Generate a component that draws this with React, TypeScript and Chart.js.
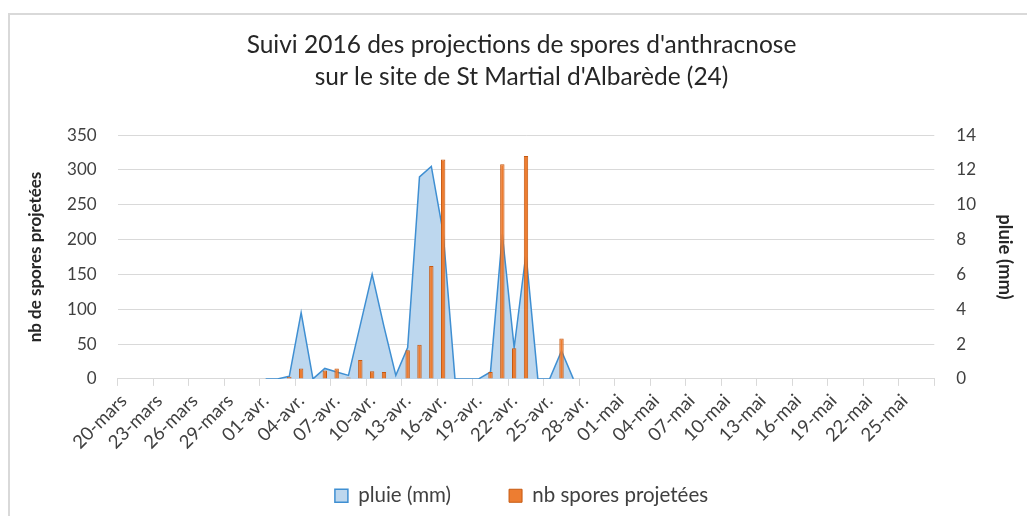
import React, { useEffect, useRef } from 'react';
import { Chart, registerables } from 'chart.js';

Chart.register(...registerables);

const titleLines = [
  "Suivi 2016 des projections de spores d'anthracnose",
  "sur le site de St Martial d'Albarède (24)",
];

const categories = [
  '20-mars', '21-mars', '22-mars', '23-mars', '24-mars', '25-mars', '26-mars', '27-mars', '28-mars', '29-mars', '30-mars', '31-mars',
  '01-avr.', '02-avr.', '03-avr.', '04-avr.', '05-avr.', '06-avr.', '07-avr.', '08-avr.', '09-avr.', '10-avr.',
  '11-avr.', '12-avr.', '13-avr.', '14-avr.', '15-avr.', '16-avr.', '17-avr.', '18-avr.', '19-avr.', '20-avr.',
  '21-avr.', '22-avr.', '23-avr.', '24-avr.', '25-avr.', '26-avr.', '27-avr.', '28-avr.', '29-avr.', '30-avr.',
  '01-mai', '02-mai', '03-mai', '04-mai', '05-mai', '06-mai', '07-mai', '08-mai', '09-mai', '10-mai',
  '11-mai', '12-mai', '13-mai', '14-mai', '15-mai', '16-mai', '17-mai', '18-mai', '19-mai', '20-mai',
  '21-mai', '22-mai', '23-mai', '24-mai', '25-mai', '26-mai', '27-mai',
];

// pluie (mm), right axis
const pluie = [
  null, null, null, null, null, null, null, null, null, null, null, null,
  0, 0, 0.15, 3.8, 0, 0.6, 0.4, 0.2, 3.1, 6.0,
  3.0, 0.2, 1.8, 11.6, 12.2, 8.4, 0, 0, 0, 0.4,
  8.3, 1.8, 7.2, 0, 0, 1.6, 0, null, null, null,
  null, null, null, null, null, null, null, null, null, null,
  null, null, null, null, null, null, null, null, null, null,
  null, null, null, null, null, null, null,
];

// nb spores projetées, left axis
const spores = [
  null, null, null, null, null, null, null, null, null, null, null, null,
  null, null, 3, 15, null, 12, 15, 2, 27, 11,
  10, null, 41, 49, 162, 315, null, null, null, 10,
  308, 44, 320, null, null, 58, null, null, null, null,
  null, null, null, null, null, null, null, null, null, null,
  null, null, null, null, null, null, null, null, null, null,
  null, null, null, null, null, null, null,
];

const FONT = 'Lato, "Open Sans", sans-serif';
const TICK_COLOR = '#404040';
const GRID = '#d9d9d9';

const framePlugin = {
  id: 'frame',
  beforeDraw(chart: any) {
    const ctx = chart.ctx;
    ctx.save();
    ctx.fillStyle = '#ffffff';
    ctx.fillRect(0, 0, chart.width, chart.height);
    ctx.fillStyle = GRID;
    ctx.fillRect(8, 13, 2, chart.height - 13);
    ctx.fillRect(8, 13, chart.width - 8, 2);
    ctx.restore();
  },
};

export default function App() {
  const ref = useRef<HTMLCanvasElement>(null);

  useEffect(() => {
    const chart = new Chart(ref.current as HTMLCanvasElement, {
      type: 'bar',
      data: {
        labels: categories,
        datasets: [
          {
            type: 'line',
            label: 'pluie (mm)',
            data: pluie,
            yAxisID: 'y1',
            fill: 'origin',
            backgroundColor: '#BDD7EE',
            borderColor: '#3F8FD2',
            borderWidth: 1.5,
            pointRadius: 0,
            tension: 0,
            order: 2,
          } as any,
          {
            type: 'bar',
            label: 'nb spores projetées',
            data: spores,
            yAxisID: 'y',
            backgroundColor: '#ED7D31',
            borderColor: '#C65911',
            borderWidth: 1,
            barPercentage: 0.37,
            categoryPercentage: 1,
            order: 1,
          } as any,
        ],
      },
      options: {
        responsive: false,
        animation: false,
        devicePixelRatio: 1,
        layout: { padding: { left: 16, right: 0, top: 0, bottom: 0 } },
        plugins: {
          title: {
            display: true,
            text: titleLines,
            color: '#262626',
            font: { family: FONT, size: 24.5, weight: 'normal', lineHeight: 1.27 },
            padding: { top: 30, bottom: 42.8 },
          },
          legend: {
            position: 'bottom',
            labels: {
              boxWidth: 13,
              boxHeight: 13,
              padding: 58,
              color: TICK_COLOR,
              font: { family: FONT, size: 20.5 },
              sort: (a: any, b: any) => a.datasetIndex - b.datasetIndex,
            },
          },
          tooltip: { enabled: false },
        },
        scales: {
          x: {
            type: 'category',
            offset: true,
            grid: {
              offset: true,
              drawOnChartArea: false,
              drawTicks: true,
              tickLength: 7,
              color: (c: any) => (c.index === undefined || c.index % 3 === 0 ? GRID : 'rgba(0,0,0,0)'),
            },
            border: { display: true, color: GRID, width: 1 },
            ticks: {
              autoSkip: false,
              minRotation: 45,
              maxRotation: 45,
              padding: 4,
              color: TICK_COLOR,
              font: { family: FONT, size: 18.5 },
              callback: (_v: any, i: number) => (i % 3 === 0 ? categories[i] : ''),
            },
            afterFit: (s: any) => {
              s.height = 48.6;
              s._computeLabelArea = () => undefined;
            },
          },
          y: {
            position: 'left',
            min: 0,
            max: 350,
            grid: { color: GRID, drawTicks: false },
            border: { display: false },
            ticks: {
              stepSize: 50,
              padding: 21,
              color: TICK_COLOR,
              font: { family: FONT, size: 17 },
            },
            title: {
              display: true,
              text: 'nb de spores projetées',
              color: '#262626',
              font: { family: FONT, size: 17, weight: 'bold', lineHeight: 1.2 },
              padding: { top: 9, bottom: 0 },
            },
            afterFit: (s: any) => {
              s.width = 101.7;
            },
          },
          y1: {
            position: 'right',
            min: 0,
            max: 14,
            grid: { display: false, drawTicks: false },
            border: { display: false },
            ticks: {
              stepSize: 2,
              padding: 22,
              color: TICK_COLOR,
              font: { family: FONT, size: 17 },
            },
            title: {
              display: true,
              text: 'pluie (mm)',
              color: '#262626',
              font: { family: FONT, size: 18.5, weight: 'bold', lineHeight: 1.2 },
              padding: { top: 11, bottom: 0 },
            },
            afterFit: (s: any) => {
              s.width = 92.7;
            },
          },
        },
      } as any,
      plugins: [framePlugin],
    });
    return () => chart.destroy();
  }, []);

  return (
    <div style={{ position: 'fixed', left: 0, top: 0, width: 1027, height: 516, background: '#fff' }}>
      <canvas ref={ref} width={1027} height={516} style={{ width: 1027, height: 516, display: 'block' }} />
    </div>
  );
}
